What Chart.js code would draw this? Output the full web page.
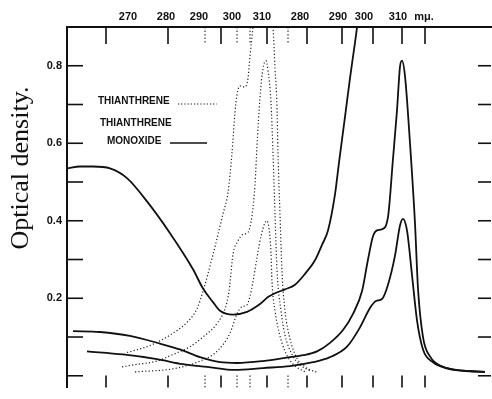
<!DOCTYPE html>
<html>
<head>
<meta charset="utf-8">
<script src="https://cdn.jsdelivr.net/npm/chart.js@4.4.1/dist/chart.umd.min.js"></script>
<style>
  html, body { margin: 0; padding: 0; background: #fff; overflow: hidden; }
  #wrap { width: 492px; height: 399px; }
</style>
</head>
<body>
<div id="wrap"><canvas id="spectrum"></canvas></div>
<script>
// x = position along the chart's wavelength strip (arbitrary units), y = optical density

// thianthrene monoxide (solid)
const monoxideHighX = [0, 13, 26, 43, 60, 80, 103, 126, 136, 146, 153, 166, 180, 193, 201, 208, 218, 228, 238, 248, 255, 261, 268, 272, 278, 283, 288, 291];
const monoxideHighY = [0.535, 0.54, 0.54, 0.535, 0.51, 0.45, 0.368, 0.275, 0.225, 0.19, 0.168, 0.158, 0.165, 0.185, 0.203, 0.213, 0.223, 0.235, 0.263, 0.298, 0.338, 0.375, 0.468, 0.55, 0.668, 0.768, 0.86, 0.918];

const monoxideMidX = [6, 33, 63, 93, 113, 133, 153, 170, 196, 223, 236, 250, 263, 276, 286, 295, 301, 306, 310, 315, 321, 326, 330, 333, 335, 338, 343, 348, 351, 356, 363, 376, 396, 418];
const monoxideMidY = [0.115, 0.113, 0.103, 0.083, 0.068, 0.048, 0.035, 0.033, 0.038, 0.048, 0.053, 0.063, 0.085, 0.118, 0.16, 0.218, 0.3, 0.36, 0.375, 0.378, 0.41, 0.56, 0.685, 0.798, 0.813, 0.773, 0.6, 0.393, 0.225, 0.1, 0.05, 0.023, 0.013, 0.01];

const monoxideLowX = [20, 56, 90, 116, 140, 168, 196, 223, 246, 263, 280, 293, 303, 309, 315, 321, 328, 333, 336, 340, 345, 350, 356, 366, 383, 418];
const monoxideLowY = [0.063, 0.055, 0.043, 0.03, 0.023, 0.015, 0.02, 0.025, 0.035, 0.048, 0.075, 0.125, 0.175, 0.193, 0.198, 0.235, 0.31, 0.388, 0.405, 0.375, 0.26, 0.143, 0.068, 0.035, 0.018, 0.01];

// thianthrene (dotted)
const thianHighX = [60, 83, 103, 120, 130, 136, 146, 156, 161, 165, 168, 170, 173, 178, 181, 183, 185, 188, 196, 206, 208, 210, 211, 213, 215, 218, 221, 228, 238, 251];
const thianHighY = [0.06, 0.078, 0.105, 0.138, 0.173, 0.218, 0.313, 0.418, 0.473, 0.575, 0.68, 0.725, 0.748, 0.745, 0.768, 0.825, 0.875, 0.943, 1.02, 0.9, 0.793, 0.693, 0.575, 0.418, 0.268, 0.168, 0.118, 0.055, 0.023, 0.008];

const thianMidX = [55, 66, 90, 106, 123, 136, 150, 158, 162, 166, 171, 176, 181, 185, 188, 190, 193, 196, 199, 201, 204, 206, 208, 210, 214, 218, 225, 233, 243];
const thianMidY = [0.023, 0.028, 0.038, 0.055, 0.075, 0.1, 0.135, 0.173, 0.218, 0.313, 0.348, 0.365, 0.37, 0.413, 0.493, 0.593, 0.718, 0.793, 0.813, 0.788, 0.705, 0.575, 0.418, 0.273, 0.168, 0.105, 0.055, 0.028, 0.013];

const thianLowX = [68, 106, 133, 150, 163, 170, 175, 180, 183, 186, 190, 194, 198, 200, 202, 204, 205, 208, 212, 218, 226, 238];
const thianLowY = [0.01, 0.018, 0.038, 0.063, 0.11, 0.16, 0.178, 0.183, 0.205, 0.243, 0.305, 0.36, 0.395, 0.4, 0.38, 0.318, 0.243, 0.168, 0.113, 0.063, 0.03, 0.01];

// axes
const topLabels = ['270', '280', '290', '300', '310', '280', '290', '300', '310', 'm\u03bc.'];
const topLabelPos = [61, 99, 132, 165, 195, 233, 271, 297, 331, 357];
const majorTickPos = [39, 101, 154, 200, 240, 275, 306, 335, 358];
const dottedTickPos = [138, 170, 183, 221];
const yTickValues = [0, 0.1, 0.2, 0.3, 0.4, 0.5, 0.6, 0.7, 0.8];
const yLabelValues = [0.2, 0.4, 0.6, 0.8];
const yTitle = 'Optical density.';

const legendNames = ['THIANTHRENE', 'THIANTHRENE', 'MONOXIDE'];

const toPoints = (xs, ys) => xs.map((x, i) => ({ x: x, y: ys[i] }));

const solidSet = (label, xs, ys) => ({
  label: label,
  data: toPoints(xs, ys),
  borderColor: '#111',
  borderWidth: 1.8,
  pointRadius: 0,
  cubicInterpolationMode: 'monotone'
});

const dottedSet = (label, xs, ys) => ({
  label: label,
  data: toPoints(xs, ys),
  borderColor: '#222',
  borderWidth: 1.2,
  borderDash: [1.2, 2.2],
  pointRadius: 0,
  cubicInterpolationMode: 'monotone'
});

const tickMarks = {
  id: 'tickMarks',
  afterDatasetsDraw(chart) {
    const { ctx, chartArea: a, scales: { x, y } } = chart;
    const line = (x1, y1, x2, y2) => {
      ctx.beginPath();
      ctx.moveTo(x1, y1);
      ctx.lineTo(x2, y2);
      ctx.stroke();
    };
    ctx.save();
    ctx.strokeStyle = '#111';
    ctx.lineWidth = 1.6;
    majorTickPos.forEach(v => {
      const px = x.getPixelForValue(v);
      line(px, a.top, px, a.top + 17);
      line(px, a.bottom - 12, px, a.bottom);
    });
    yTickValues.forEach(v => {
      const py = y.getPixelForValue(v);
      line(a.left, py, a.left + 16, py);
      line(a.right - 13, py, a.right, py);
    });
    ctx.lineWidth = 1;
    ctx.setLineDash([1.5, 2]);
    dottedTickPos.forEach(v => {
      const px = x.getPixelForValue(v);
      line(px, a.top, px, a.top + 17);
      line(px, a.bottom - 12, px, a.bottom);
    });
    ctx.restore();
  }
};

const legendKey = {
  id: 'legendKey',
  afterDraw(chart) {
    const ctx = chart.ctx;
    ctx.save();
    ctx.fillStyle = '#111';
    ctx.font = 'bold 10px "Liberation Sans"';
    ctx.textBaseline = 'middle';
    ctx.fillText(legendNames[0], 98, 101);
    ctx.fillText(legendNames[1], 100, 123);
    ctx.fillText(legendNames[2], 107, 141);
    ctx.strokeStyle = '#111';
    ctx.lineWidth = 1.2;
    ctx.setLineDash([1.2, 2]);
    ctx.beginPath();
    ctx.moveTo(178, 104);
    ctx.lineTo(217, 104);
    ctx.stroke();
    ctx.setLineDash([]);
    ctx.lineWidth = 1.5;
    ctx.beginPath();
    ctx.moveTo(170, 143);
    ctx.lineTo(207, 143);
    ctx.stroke();

    // y axis title, set higher than Chart.js would centre it
    ctx.translate(21, 168);
    ctx.rotate(-Math.PI / 2);
    ctx.font = '26px "Liberation Serif"';
    ctx.textAlign = 'center';
    ctx.fillText(yTitle, 0, 0);
    ctx.restore();
  }
};

const labelFont = { family: 'Liberation Sans', size: 11, weight: 'bold' };

new Chart(document.getElementById('spectrum').getContext('2d'), {
  type: 'line',
  data: {
    datasets: [
      solidSet('Thianthrene monoxide (high)', monoxideHighX, monoxideHighY),
      solidSet('Thianthrene monoxide (mid)', monoxideMidX, monoxideMidY),
      solidSet('Thianthrene monoxide (low)', monoxideLowX, monoxideLowY),
      dottedSet('Thianthrene (high)', thianHighX, thianHighY),
      dottedSet('Thianthrene (mid)', thianMidX, thianMidY),
      dottedSet('Thianthrene (low)', thianLowX, thianLowY)
    ]
  },
  options: {
    responsive: true,
    maintainAspectRatio: false,
    animation: false,
    layout: { padding: { left: 0, right: 1, top: 0, bottom: 0 } },
    plugins: {
      legend: { display: false },
      tooltip: { enabled: false }
    },
    scales: {
      x: {
        type: 'linear',
        position: 'top',
        min: 0,
        max: 424,
        afterFit: (s) => { s.height = 27; },
        afterBuildTicks: (s) => { s.ticks = topLabelPos.map(v => ({ value: v })); },
        ticks: {
          autoSkip: false,
          maxRotation: 0,
          minRotation: 0,
          padding: 3,
          color: '#111',
          font: labelFont,
          callback: (v, i) => topLabels[i]
        },
        grid: { display: false, drawTicks: false },
        border: { display: true, color: '#111', width: 2 }
      },
      y: {
        min: -0.03,
        max: 0.9,
        afterFit: (s) => { s.width = 67; },
        afterBuildTicks: (s) => { s.ticks = yLabelValues.map(v => ({ value: v })); },
        ticks: {
          padding: 5,
          color: '#111',
          font: labelFont,
          callback: (v) => v.toFixed(1)
        },
        grid: { display: false, drawTicks: false },
        border: { display: true, color: '#111', width: 2 }
      }
    }
  },
  plugins: [tickMarks, legendKey]
});
</script>
</body>
</html>
